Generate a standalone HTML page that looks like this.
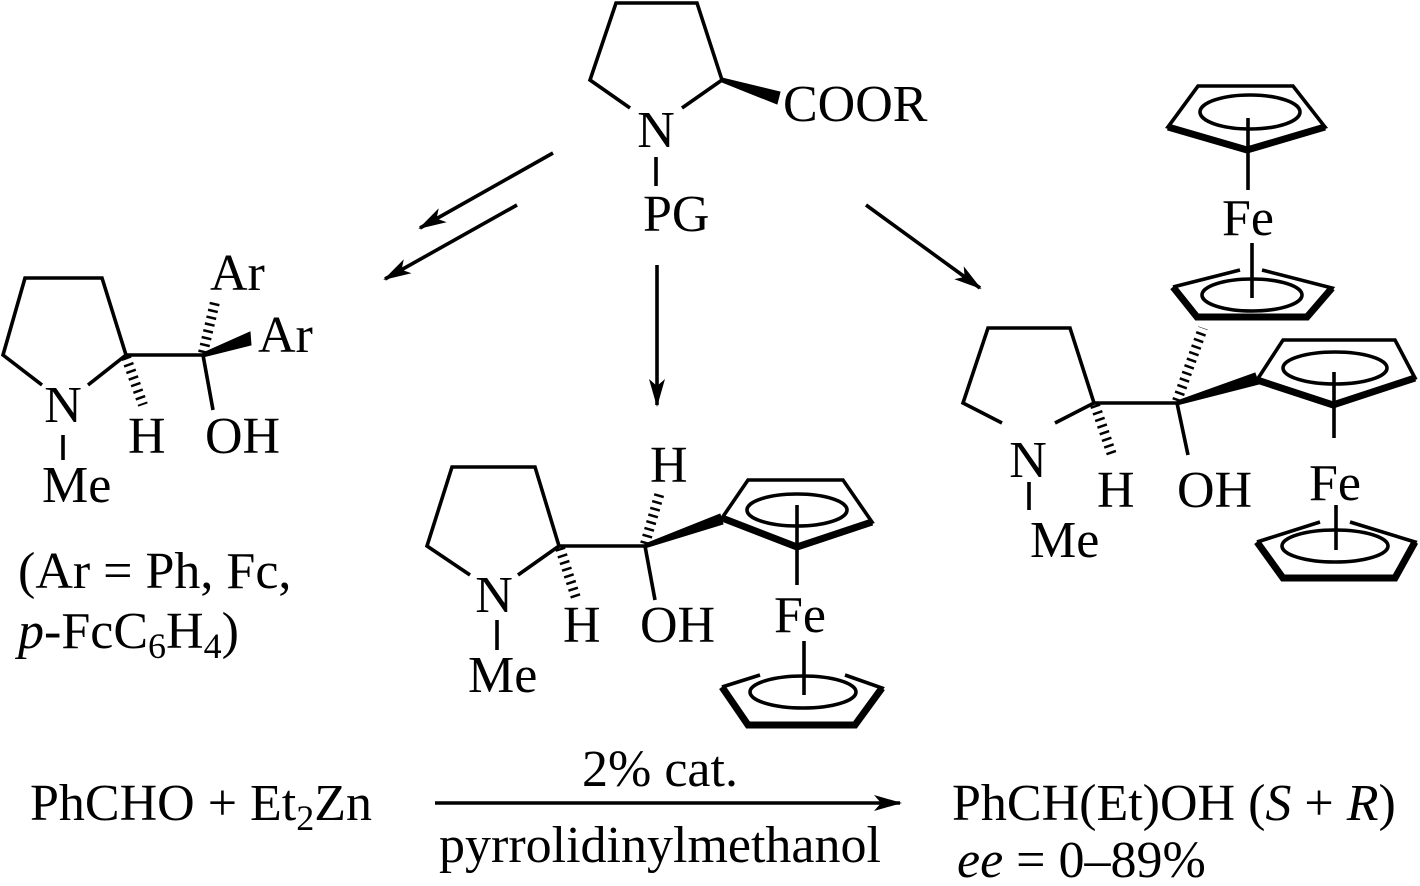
<!DOCTYPE html>
<html><head><meta charset="utf-8"><style>
html,body{margin:0;padding:0;background:#fff;}
svg{display:block;}
text{font-family:"Liberation Serif",serif;font-size:52px;fill:#000;}
</style></head><body>
<svg width="1420" height="886" viewBox="0 0 1420 886" xmlns="http://www.w3.org/2000/svg">
<defs>
<marker id="ah" viewBox="0 0 28 16" refX="26" refY="8" markerWidth="28" markerHeight="16" markerUnits="userSpaceOnUse" orient="auto">
<path d="M0,0 L28,8 L0,16 L7,8 z" fill="#000"/>
</marker>
</defs>
<g stroke="#000" stroke-width="3.6" fill="none" stroke-linejoin="miter">
<!-- top proline -->
<polyline points="630,108 590,80 616,3 697,3 722,80 682,108"/>
<polygon points="722,78 780,92 777,104 722,82" fill="#000" stroke-width="1"/>
<line x1="656" y1="157" x2="656" y2="186"/>
<!-- arrows -->
<line x1="553" y1="153" x2="420" y2="228" marker-end="url(#ah)"/>
<line x1="517" y1="205" x2="385" y2="279" marker-end="url(#ah)"/>
<line x1="657" y1="265" x2="657" y2="405" marker-end="url(#ah)"/>
<line x1="866" y1="205" x2="980" y2="288" marker-end="url(#ah)"/>
<line x1="435" y1="803" x2="900" y2="803" marker-end="url(#ah)"/>

<!-- left molecule -->
<polyline points="42,385 3,355 25,278 102,278 126,355 88,385"/>
<line x1="126" y1="355" x2="203" y2="355"/>
<line x1="126" y1="357" x2="143" y2="405" stroke-width="10" stroke-dasharray="2.5 4.5"/>
<line x1="203" y1="353" x2="215" y2="302" stroke-width="10" stroke-dasharray="2.5 4.5"/>
<polygon points="203,353 250,332 251,345 203,357" fill="#000" stroke-width="1"/>
<line x1="203" y1="355" x2="213" y2="410"/>
<line x1="63" y1="435" x2="63" y2="460"/>

<!-- middle molecule -->
<polyline points="470,575 427,546 452,467 535,467 559,546 518,575"/>
<line x1="559" y1="546" x2="645" y2="546"/>
<line x1="560" y1="548" x2="576" y2="598" stroke-width="10" stroke-dasharray="2.5 4.5"/>
<line x1="645" y1="544" x2="660" y2="492" stroke-width="10" stroke-dasharray="2.5 4.5"/>
<polygon points="645,544 720,514 723,524 645,548" fill="#000" stroke-width="1"/>
<line x1="645" y1="546" x2="655" y2="600"/>
<line x1="497" y1="620" x2="497" y2="650"/>
<polygon points="722,518 748,480 843,480 872,522 797,547"/>
<polyline points="722,518 797,547 872,522" stroke-width="7"/>
<ellipse cx="797" cy="510" rx="50" ry="16"/>
<line x1="797" y1="505" x2="797" y2="585"/>
<line x1="804" y1="641" x2="804" y2="695"/>
<polyline points="722,687 748,725 855,725 882,688 845,675"/>
<line x1="760" y1="675" x2="722" y2="687"/>
<polyline points="722,687 748,725 855,725 882,688" stroke-width="7"/>
<ellipse cx="803" cy="692" rx="53" ry="16"/>

<!-- right molecule -->
<polyline points="1002,423 963,403 988,328 1070,328 1094,403 1055,423"/>
<line x1="1094" y1="403" x2="1177" y2="403"/>
<line x1="1095" y1="405" x2="1112" y2="455" stroke-width="10" stroke-dasharray="2.5 4.5"/>
<line x1="1177" y1="401" x2="1203" y2="328" stroke-width="10" stroke-dasharray="2.5 4.5"/>
<polygon points="1177,401 1255,373 1259,384 1177,405" fill="#000" stroke-width="1"/>
<line x1="1177" y1="403" x2="1188" y2="455"/>
<line x1="1029" y1="482" x2="1029" y2="510"/>
<!-- top Cp -->
<polygon points="1168,127 1198,86 1293,86 1325,127 1247,150"/>
<polyline points="1168,127 1247,150 1325,127" stroke-width="7"/>
<ellipse cx="1250" cy="112" rx="50" ry="17"/>
<line x1="1248" y1="118" x2="1248" y2="190"/>
<line x1="1252" y1="243" x2="1252" y2="298"/>
<!-- second Cp -->
<polyline points="1173,287 1197,317 1307,317 1332,288 1262,270"/>
<line x1="1240" y1="270" x2="1173" y2="287"/>
<polyline points="1173,287 1197,317 1307,317 1332,288" stroke-width="7"/>
<ellipse cx="1252" cy="295" rx="50" ry="16"/>
<!-- third Cp -->
<polygon points="1257,380 1283,340 1395,340 1415,378 1333,405"/>
<polyline points="1257,380 1333,405 1415,378" stroke-width="7"/>
<ellipse cx="1335" cy="368" rx="52" ry="16"/>
<line x1="1334" y1="372" x2="1334" y2="438"/>
<line x1="1336" y1="505" x2="1336" y2="550"/>
<!-- bottom Cp -->
<polyline points="1257,542 1283,578 1395,578 1415,542 1350,522"/>
<line x1="1320" y1="522" x2="1257" y2="542"/>
<polyline points="1257,542 1283,578 1395,578 1415,542" stroke-width="7"/>
<ellipse cx="1335" cy="546" rx="53" ry="16"/>
</g>

<!-- labels -->
<text x="656" y="147" text-anchor="middle">N</text>
<text x="783" y="121">COOR</text>
<text x="643" y="231">PG</text>

<text x="63" y="422" text-anchor="middle">N</text>
<text x="210" y="290">Ar</text>
<text x="258" y="352">Ar</text>
<text x="128" y="453">H</text>
<text x="205" y="453">OH</text>
<text x="42" y="502">Me</text>
<text x="18" y="588">(Ar = Ph, Fc,</text>
<text x="18" y="648"><tspan font-style="italic">p</tspan>-FcC<tspan font-size="36" dy="10">6</tspan><tspan dy="-10">H</tspan><tspan font-size="36" dy="10">4</tspan><tspan dy="-10">)</tspan></text>

<text x="494" y="612" text-anchor="middle">N</text>
<text x="650" y="482">H</text>
<text x="563" y="642">H</text>
<text x="640" y="642">OH</text>
<text x="468" y="692">Me</text>
<text x="774" y="632">Fe</text>

<text x="1028" y="477" text-anchor="middle">N</text>
<text x="1097" y="507">H</text>
<text x="1177" y="507">OH</text>
<text x="1030" y="557">Me</text>
<text x="1222" y="235">Fe</text>
<text x="1309" y="500">Fe</text>

<text x="30" y="820">PhCHO + Et<tspan font-size="36" dy="10">2</tspan><tspan dy="-10">Zn</tspan></text>
<text x="660" y="786" text-anchor="middle">2% cat.</text>
<text x="660" y="862" text-anchor="middle">pyrrolidinylmethanol</text>
<text x="952" y="820">PhCH(Et)OH (<tspan font-style="italic">S</tspan> + <tspan font-style="italic">R</tspan>)</text>
<text x="957" y="877"><tspan font-style="italic">ee</tspan> = 0–89%</text>
</svg>
</body></html>
